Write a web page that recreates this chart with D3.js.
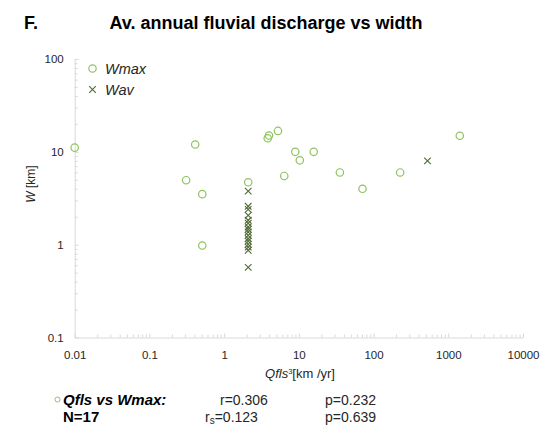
<!DOCTYPE html>
<html>
<head>
<meta charset="utf-8">
<script src="https://cdn.jsdelivr.net/npm/d3@7"></script>
<style>
  body { margin: 0; background: #fff; }
  text { font-family: "Liberation Sans", Arial, sans-serif; }
</style>
</head>
<body>
<svg id="chart" width="552" height="435"></svg>
<script>
// Average annual fluvial discharge (km³/yr) against maximum width (km)
const qflsWmax = [0.01, 0.31, 0.41, 0.51, 0.51, 2.1, 3.83, 3.98, 5.26, 6.38, 8.96, 10.3, 15.8, 35.4, 71.2, 227, 1426];
const wmax     = [11.1, 4.95, 12, 3.5, 0.98, 4.7, 14, 15, 16.8, 5.5, 10, 8.1, 10, 6, 4, 6, 14.9];

// Average annual fluvial discharge (km³/yr) against average width (km)
const qflsWav = [2.1, 2.1, 2.1, 2.1, 2.1, 2.1, 2.1, 2.1, 2.1, 2.1, 2.1, 2.1, 2.1, 2.1, 2.1, 2.1, 527];
const wav     = [3.78, 2.59, 2.40, 2.07, 1.83, 1.70, 1.55, 1.46, 1.37, 1.26, 1.16, 1.09, 1.01, 0.94, 0.87, 0.57, 8.0];

const xTicks = [0.01, 0.1, 1, 10, 100, 1000, 10000];
const xTickLabels = ["0.01", "0.1", "1", "10", "100", "1000", "10000"];
const yTicks = [0.1, 1, 10, 100];
const yTickLabels = ["0.1", "1", "10", "100"];

const statsRow1 = ["r=0.306", "p=0.232"];
const statsRow2 = ["=0.123", "p=0.639"];

const svg = d3.select("#chart");
svg.append("rect").attr("width", 552).attr("height", 435).attr("fill", "#fff");

const x = d3.scaleLog().domain([0.01, 10000]).range([74.7, 523]);
const y = d3.scaleLog().domain([0.1, 100]).range([337.5, 59]);

const axisColor = "#d9d9d9";
const textColor = "#262626";
const wmaxColor = "#8cc45e";
const wavColor = "#4f6a33";

// minor log ticks (2..9 within each decade)
const minor = (ticks) => ticks.slice(0, -1).flatMap(d => d3.range(2, 10).map(k => d * k));

// x axis
const gxMinor = svg.append("g").attr("transform", "translate(0,337.5)")
  .call(d3.axisBottom(x).tickValues(minor(xTicks)).tickFormat("").tickSizeInner(-3).tickSizeOuter(0));
const gx = svg.append("g").attr("transform", "translate(0,337.5)")
  .call(d3.axisBottom(x).tickValues(xTicks).tickFormat((d, i) => xTickLabels[i])
    .tickSizeInner(-4).tickSizeOuter(0).tickPadding(13));

// y axis
const gyMinor = svg.append("g").attr("transform", "translate(74.7,0)")
  .call(d3.axisLeft(y).tickValues(minor(yTicks)).tickFormat("").tickSizeInner(-3).tickSizeOuter(0));
const gy = svg.append("g").attr("transform", "translate(74.7,0)")
  .call(d3.axisLeft(y).tickValues(yTicks).tickFormat((d, i) => yTickLabels[i])
    .tickSizeInner(-4).tickSizeOuter(0).tickPadding(11));

[gxMinor, gx, gyMinor, gy].forEach(g => {
  g.selectAll("path, line").attr("stroke", axisColor).attr("stroke-width", 1);
  g.selectAll("text").attr("fill", textColor).attr("font-size", 11.5)
    .attr("font-family", "'Liberation Sans', Arial, sans-serif");
});
gyMinor.select(".domain").remove();
gxMinor.select(".domain").remove();

// Wmax points (open circles)
svg.append("g").selectAll("circle")
  .data(qflsWmax.map((q, i) => [q, wmax[i]]))
  .join("circle")
  .attr("cx", d => x(d[0]))
  .attr("cy", d => y(d[1]))
  .attr("r", 3.7)
  .attr("fill", "none")
  .attr("stroke", wmaxColor)
  .attr("stroke-width", 1.2);

// Wav points (crosses)
const cross = d3.symbol().type(d3.symbolX).size(30);
svg.append("g").selectAll("path")
  .data(qflsWav.map((q, i) => [q, wav[i]]))
  .join("path")
  .attr("d", cross)
  .attr("transform", d => `translate(${x(d[0])},${y(d[1])})`)
  .attr("fill", "none")
  .attr("stroke", wavColor)
  .attr("stroke-width", 1.1);

// Legend
svg.append("circle").attr("cx", 92.5).attr("cy", 68.5).attr("r", 3.7)
  .attr("fill", "none").attr("stroke", wmaxColor).attr("stroke-width", 1.2);
svg.append("text").attr("x", 105).attr("y", 73.5).attr("font-size", 14.5)
  .attr("font-style", "italic").attr("fill", textColor).text("Wmax");
svg.append("path").attr("d", cross).attr("transform", "translate(92.5,89.5)")
  .attr("fill", "none").attr("stroke", wavColor).attr("stroke-width", 1.1);
svg.append("text").attr("x", 105).attr("y", 94.5).attr("font-size", 14.5)
  .attr("font-style", "italic").attr("fill", textColor).text("Wav");

// Titles
svg.append("text").attr("x", 24).attr("y", 29).attr("font-size", 18)
  .attr("font-weight", "bold").attr("fill", "#000").text("F.");
svg.append("text").attr("x", 266).attr("y", 29).attr("font-size", 18)
  .attr("font-weight", "bold").attr("text-anchor", "middle").attr("fill", "#000")
  .text("Av. annual fluvial discharge vs width");

// Axis titles
const yTitle = svg.append("text").attr("transform", "translate(35,184) rotate(-90)")
  .attr("text-anchor", "middle").attr("font-size", 12).attr("fill", textColor);
yTitle.append("tspan").attr("font-style", "italic").text("W");
yTitle.append("tspan").text(" [km]");

const xTitle = svg.append("text").attr("x", 300).attr("y", 378)
  .attr("text-anchor", "middle").attr("font-size", 13).attr("fill", textColor);
xTitle.append("tspan").attr("font-style", "italic").text("Qfls");
xTitle.append("tspan").attr("font-size", 7.5).attr("dy", -4).text("3");
xTitle.append("tspan").attr("dy", 4).text("[km /yr]");

// Correlation summary
svg.append("circle").attr("cx", 57.5).attr("cy", 399.5).attr("r", 2.5)
  .attr("fill", "none").attr("stroke", wmaxColor).attr("stroke-width", 1);
svg.append("text").attr("x", 63).attr("y", 404.5).attr("font-size", 15)
  .attr("font-weight", "bold").attr("font-style", "italic").attr("fill", "#000")
  .text("Qfls vs Wmax:");
svg.append("text").attr("x", 220).attr("y", 404.5).attr("font-size", 14)
  .attr("fill", textColor).text(statsRow1[0]);
svg.append("text").attr("x", 325).attr("y", 404.5).attr("font-size", 14)
  .attr("fill", textColor).text(statsRow1[1]);

svg.append("text").attr("x", 63).attr("y", 422).attr("font-size", 15)
  .attr("font-weight", "bold").attr("fill", "#000").text("N=17");
const rs = svg.append("text").attr("x", 205).attr("y", 422).attr("font-size", 14).attr("fill", textColor);
rs.append("tspan").text("r");
rs.append("tspan").attr("font-size", 10).attr("dy", 2).text("s");
rs.append("tspan").attr("dy", -2).text(statsRow2[0]);
svg.append("text").attr("x", 325).attr("y", 422).attr("font-size", 14)
  .attr("fill", textColor).text(statsRow2[1]);
</script>
</body>
</html>
